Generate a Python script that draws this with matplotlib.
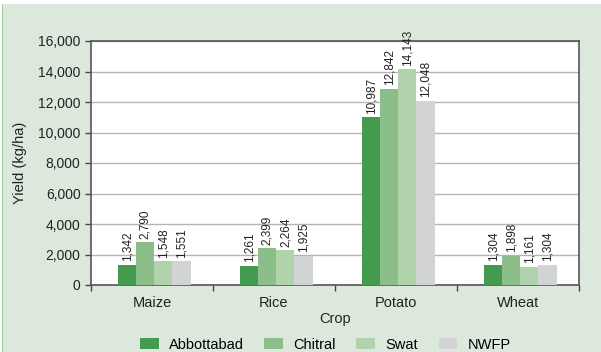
import matplotlib.pyplot as plt
import matplotlib.patches as mpatches
import numpy as np

plt.rcParams['font.family'] = ['Liberation Sans', 'DejaVu Sans']

# Rendimento por cultura e região (kg/ha)
culturas = ['Maize', 'Rice', 'Potato', 'Wheat']
regioes = ['Abbottabad', 'Chitral', 'Swat', 'NWFP']
abbottabad = [1342, 1261, 10987, 1304]
chitral = [2790, 2399, 12842, 1898]
swat = [1548, 2264, 14143, 1161]
nwfp = [1551, 1925, 12048, 1304]
cores = ['#449a4f', '#8bbe89', '#b0d3ab', '#d2d3d5']

series = [abbottabad, chitral, swat, nwfp]

fig = plt.figure(figsize=(6.01, 3.52), dpi=100, facecolor='#dde8dc')
# faixa branca no topo e borda verde à esquerda
fig.patches.append(mpatches.Rectangle((0, 1 - 4 / 352), 1, 4 / 352, transform=fig.transFigure,
                                      facecolor='white', edgecolor='none'))
fig.patches.append(mpatches.Rectangle((0, 0), 2 / 601, 1, transform=fig.transFigure,
                                      facecolor='white', edgecolor='none'))
fig.patches.append(mpatches.Rectangle((2 / 601, 0), 1.2 / 601, 1 - 4 / 352, transform=fig.transFigure,
                                      facecolor='#9fcf98', edgecolor='none'))

ax = fig.add_axes([91 / 601, 1 - 285 / 352, 488 / 601, 244 / 352])
ax.set_facecolor('white')

x = np.arange(len(culturas))
largura = 0.148
for i, (valores, cor, nome) in enumerate(zip(series, cores, regioes)):
    pos = x + (i - 1.5) * largura + 0.02
    ax.bar(pos, valores, largura, color=cor, label=nome, zorder=3)
    for px, v in zip(pos, valores):
        ax.text(px, v + 250, f'{v:,}', rotation=90, ha='center', va='bottom',
                fontsize=8.5, color='#222222', zorder=4)

ax.set_xlim(-0.5, len(culturas) - 0.5)
ax.set_ylim(0, 16000)
ax.set_yticks(np.arange(0, 16001, 2000))
ax.set_yticklabels([f'{v:,}' for v in range(0, 16001, 2000)])
ax.yaxis.grid(True, color='#b4b4b4', linewidth=1, zorder=0)

ax.set_xticks(x)
ax.set_xticklabels(culturas)
ax.tick_params(axis='x', length=0, labelsize=10.5, pad=8, colors='#222222')
ax.set_xticks(np.arange(-0.5, len(culturas), 1), minor=True)
ax.tick_params(axis='x', which='minor', length=4, width=1, color='#444444')
ax.tick_params(axis='y', length=4, width=1, color='#444444', labelsize=10, labelcolor='#222222')

for lado in ['top', 'right', 'left', 'bottom']:
    ax.spines[lado].set_color('#555555')
    ax.spines[lado].set_linewidth(1.2)

ax.set_xlabel('Crop', fontsize=10.5, color='#222222', labelpad=1)
ax.set_ylabel('Yield (kg/ha)', fontsize=10.5, color='#222222', labelpad=8)

ax.legend(loc='lower center', bbox_to_anchor=(0.48, -0.315), ncol=4, frameon=False,
          fontsize=10.5, handlelength=1.3, handleheight=0.8, columnspacing=1.4,
          handletextpad=0.7, borderpad=0.2)

fig.savefig('out.png', dpi=100, facecolor=fig.get_facecolor())
